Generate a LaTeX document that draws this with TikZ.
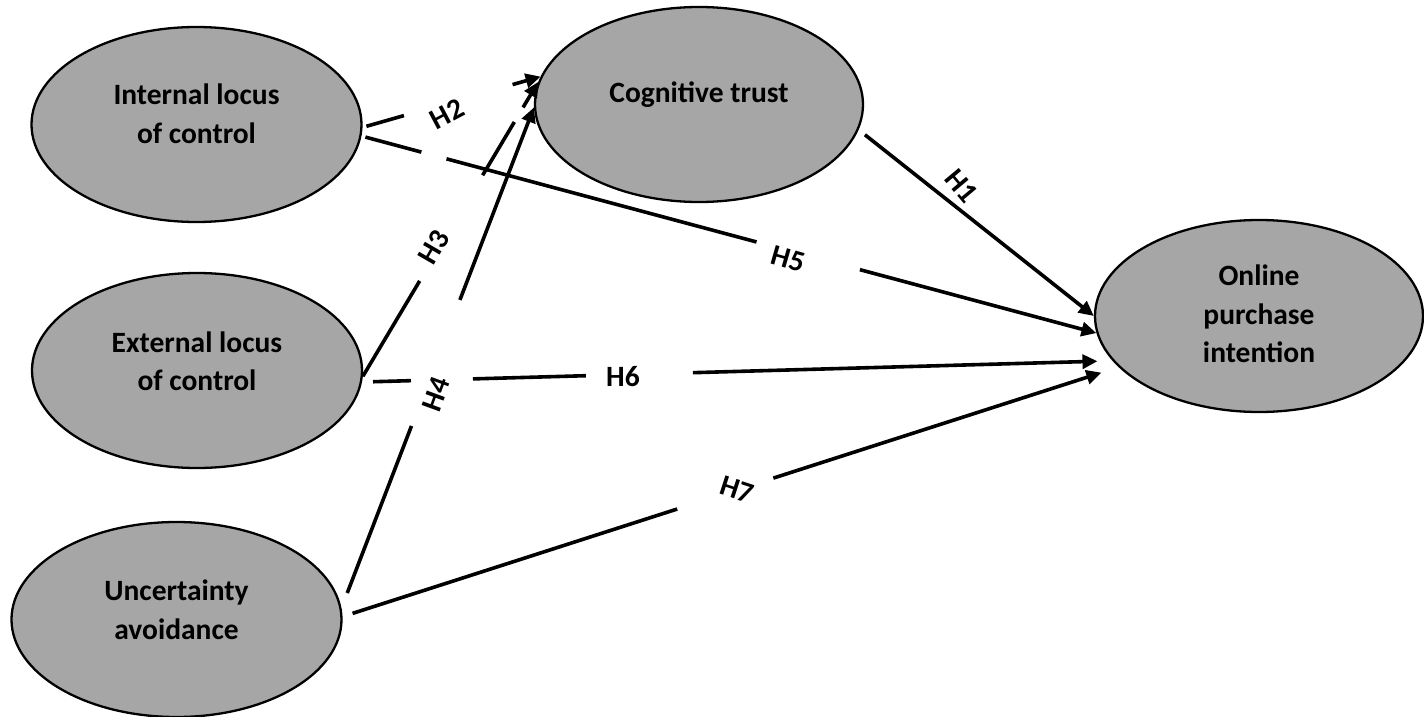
\documentclass[tikz,border=0pt]{standalone}
\usepackage{fontspec}
\setmainfont{Carlito}
\usetikzlibrary{shapes.geometric,arrows.meta}
\definecolor{ellgray}{RGB}{166,166,166}
\begin{document}
\begin{tikzpicture}[x=1pt,y=-1pt,
  ell/.style={ellipse,draw=black,line width=2.3pt,fill=ellgray,inner sep=0pt,minimum width=330pt,minimum height=195pt},
  elltext/.style={font=\bfseries\fontsize{29.5}{38.5}\selectfont,align=center,inner sep=0pt},
  hlab/.style={font=\bfseries\fontsize{29.5}{34}\selectfont,inner sep=0pt},
  conn/.style={line width=3.6pt,-{Triangle[length=15pt,width=14pt]}}]
\useasboundingbox (0,0) rectangle (1424,717);

% constructs
\node[ell] (int) at (196.5,124.5) {};
\node[ell] (ext) at (197,370.5) {};
\node[ell] (unc) at (176.5,619.5) {};
\node[ell,minimum width=328pt] (cog) at (699,104.5) {};
\node[ell,minimum width=328pt,minimum height=192pt] (onl) at (1259,316) {};

\node[elltext] (intT) at ([yshift=10.5pt]int.center) {Internal locus\\of control};
\node[elltext] (extT) at ([yshift=9pt]ext.center) {External locus\\of control};
\node[elltext] (uncT) at ([yshift=9.5pt]unc.center) {Uncertainty\\avoidance};
\node[elltext] (cogT) at ([yshift=9.5pt]cog.center) {Cognitive trust};
\node[elltext] (onlT) at ([yshift=2pt]onl.center) {Online\\purchase\\intention};

% connectors
\draw[conn,shorten <=4pt,dash pattern=on 39pt off 113pt on 2000pt] (int.-1) -- (cog.170.5);   % H2
\draw[conn,dash pattern=on 111pt off 123pt on 62pt off 17pt on 2000pt] (ext.-2) -- (cog.172); % H3
\draw[conn,shorten <=16pt,dash pattern=on 179pt off 135pt on 2000pt] (unc.4) -- (cog.181);    % H4
\draw[conn,shorten <=8pt] (cog.-9) -- (onl.180);                                               % H1
\draw[conn,shorten <=4pt,dash pattern=on 58pt off 26pt on 321pt off 107pt on 2000pt] (int.-4) -- (onl.186); % H5
\draw[conn,shorten <=11pt,shorten >=15pt,dash pattern=on 38pt off 62pt on 113pt off 107pt on 2000pt] (ext.-4) -- (onl.197); % H6
\draw[conn,shorten <=10.5pt,shorten >=18pt,dash pattern=on 341pt off 101pt on 2000pt] (unc.1.5) -- (onl.200); % H7

% labels
\node[hlab,rotate=-50] (h1) at (962,186) {H1};
\node[hlab,rotate=28] (h2) at (447,114) {H2};
\node[hlab,rotate=60] (h3) at (434,247) {H3};
\node[hlab,rotate=70] (h4) at (436,394) {H4};
\node[hlab,rotate=-16] (h5) at (788,259) {H5};
\node[hlab] (h6) at (623,377) {H6};
\node[hlab,rotate=-18] (h7) at (737,490) {H7};
\end{tikzpicture}
\end{document}
